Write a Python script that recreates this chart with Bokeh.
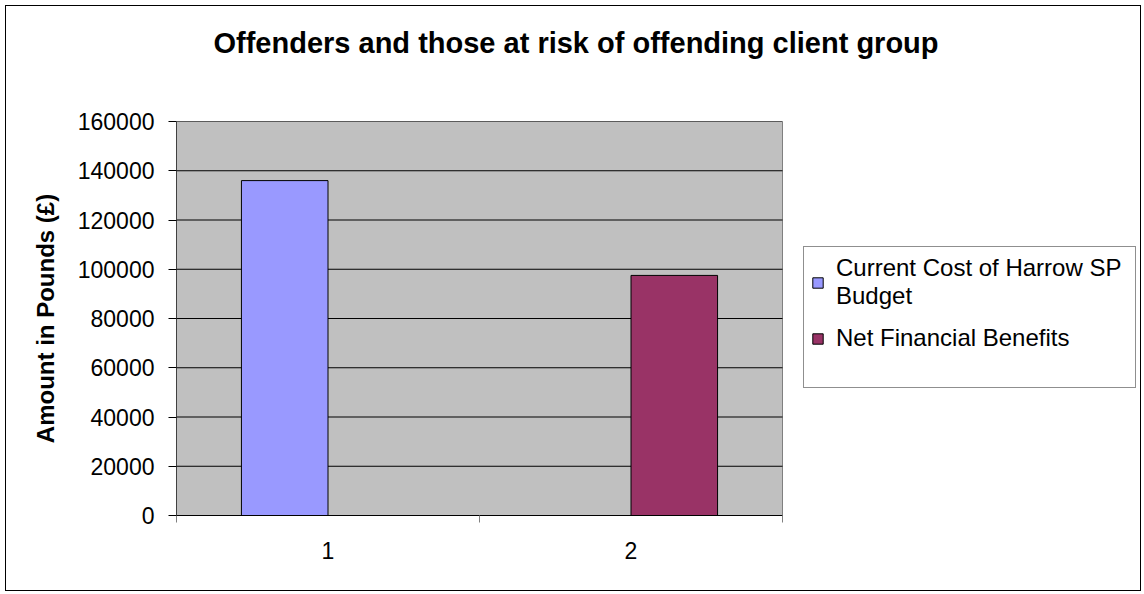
from bokeh.plotting import figure
from bokeh.models import FixedTicker, Legend, LegendItem, Range1d
from bokeh.embed import file_html
from bokeh.resources import INLINE

# ---- data ----
categories = ["1", "2"]
series_names = ["Current Cost of Harrow SP\nBudget", "Net Financial Benefits"]
series_values = [136000, 97500]
series_colors = ["#9999FF", "#993366"]
y_ticks = [0, 20000, 40000, 60000, 80000, 100000, 120000, 140000, 160000]
title_text = "Offenders and those at risk of offending client group"
y_label = "Amount in Pounds (\u00a3)"

FONT = "Liberation Sans"

# ---- layout (absolute page coords of the reference) ----
FX, FY = 6, 6          # content origin (5px margin + 1px border)
W, H = 1136, 586
FL, FR, FT, FB = 176, 782, 121, 515   # grey plot area
MBR = 0
frame_right = FX + W - MBR
n_cat = len(categories)
px_per_cat = (FR - FL) / n_cat
x_start = 0.5
x_end = x_start + n_cat + (frame_right - FR) / px_per_cat

p = figure(width=W, height=H, output_backend="svg", toolbar_location=None,
           x_range=Range1d(x_start, x_end),
           y_range=Range1d(y_ticks[0], y_ticks[-1]),
           min_border_left=FL - FX, min_border_right=MBR,
           min_border_top=FT - FY, min_border_bottom=H - (FB - FY),
           styles={"margin-left": "5px", "margin-top": "5px",
                   "border": "1px solid #000000"})

p.background_fill_color = "white"
p.border_fill_color = "white"
p.outline_line_color = None

# grey plot area and gridlines
p.quad(left=[x_start], right=[x_start + n_cat], bottom=[y_ticks[0]], top=[y_ticks[-1]],
       fill_color="#C0C0C0", line_color="#808080", line_width=1)
p.segment(x0=[x_start] * len(y_ticks), x1=[x_start + n_cat] * len(y_ticks),
          y0=y_ticks, y1=y_ticks, line_color="black", line_width=1)

# Excel clustered columns: 2 series per category, gap width 150%
n_series = len(series_names)
bar_w = 1.0 / (n_series + 1.5)
renderers = []
for i, (name, val, col) in enumerate(zip(series_names, series_values, series_colors)):
    xpos = (i + 1) + (i - (n_series - 1) / 2) * bar_w
    r = p.vbar(x=[xpos], top=[val], bottom=0, width=bar_w,
               fill_color=col, line_color="black", line_width=1)
    renderers.append(r)

p.xgrid.visible = False
p.ygrid.visible = False

# y axis
ya = p.yaxis[0]
ya.ticker = FixedTicker(ticks=y_ticks)
ya.major_label_overrides = {t: str(t) for t in y_ticks}
ya.axis_line_color = "#404040"
ya.major_tick_line_color = "black"
ya.major_tick_out = 8
ya.major_tick_in = 0
ya.minor_tick_out = 0
ya.minor_tick_in = 0
ya.major_label_standoff = 14
ya.major_label_text_font = FONT
ya.major_label_text_font_size = "23px"
ya.major_label_text_color = "black"
ya.axis_label = y_label
ya.axis_label_text_font = FONT
ya.axis_label_text_font_size = "24px"
ya.axis_label_text_font_style = "bold"
ya.axis_label_text_color = "black"
ya.axis_label_standoff = 16

# x axis
xa = p.xaxis[0]
xa.bounds = (x_start, x_start + n_cat)
xa.ticker = FixedTicker(ticks=[1, 2], minor_ticks=[0.5, 1.5, 2.5])
xa.major_label_overrides = {i + 1: c for i, c in enumerate(categories)}
xa.axis_line_color = "black"
xa.major_tick_out = 0
xa.major_tick_in = 0
xa.minor_tick_out = 7
xa.minor_tick_in = 0
xa.minor_tick_line_color = "#808080"
xa.major_label_standoff = 19
xa.major_label_text_font = FONT
xa.major_label_text_font_size = "23px"
xa.major_label_text_color = "black"

# title
p.title.text = title_text
p.title.text_font = FONT
p.title.text_font_size = "29px"
p.title.text_font_style = "bold"
p.title.text_color = "black"
p.title.align = "left"
p.title.offset = 213 - FL
p.title.standoff = 0
p.title.padding = dict(left=0, right=0, top=0, bottom=63)

# legend (to the right of the grey plot area)
legend = Legend(
    items=[LegendItem(label=n, renderers=[r]) for n, r in zip(series_names, renderers)],
    location=(803 - FL, FB - 388),
    orientation="vertical",
    label_text_font=FONT, label_text_font_size="24px", label_text_color="black",
    label_text_line_height=1.45,
    glyph_width=13, glyph_height=13, label_standoff=12,
    label_width=292,
    padding=7, spacing=14,
    border_line_color="#202020", border_line_width=1,
    background_fill_color="white", background_fill_alpha=1,
    title=" ", title_location="below", title_text_font_size="24px",
    title_standoff=0,
)
p.add_layout(legend, "center")

open("out.html", "w").write(file_html(p, INLINE))
